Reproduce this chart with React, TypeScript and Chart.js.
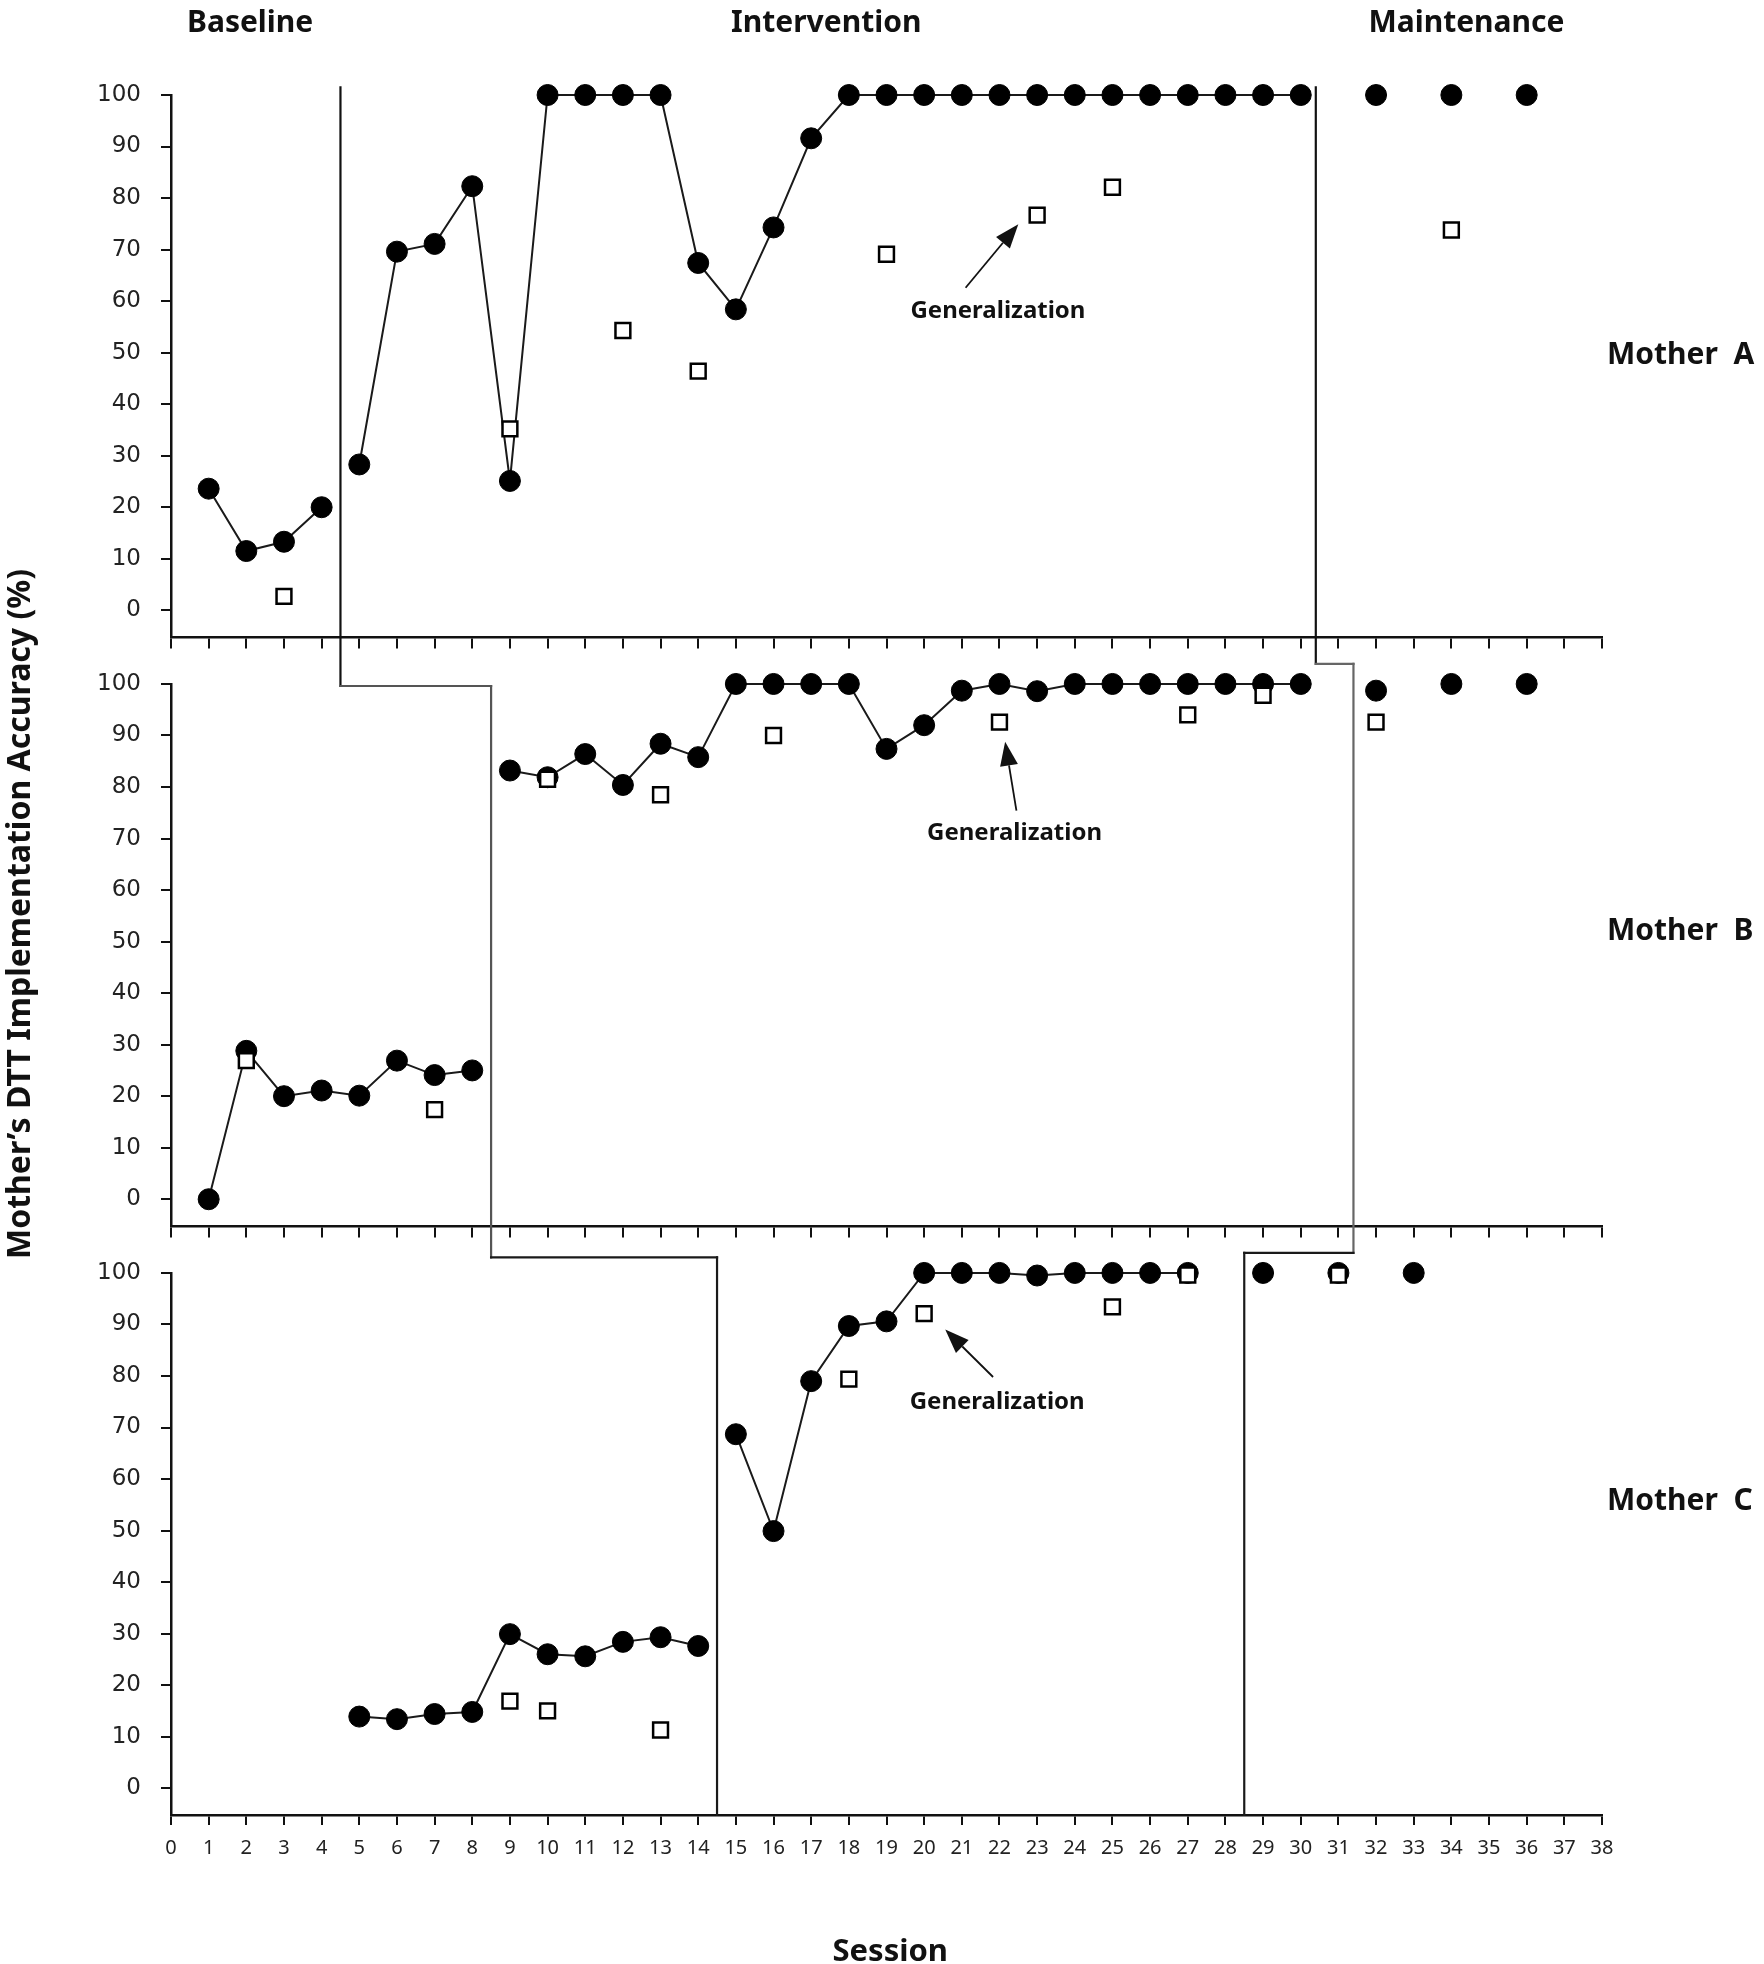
import React, { useEffect, useRef } from "react";
import { Chart, registerables } from "chart.js";

Chart.register(...registerables);

// ---------- axis ranges ----------
const sessionMin = 0;
const sessionMax = 38;
const panelMin = -5.2;
const panelMax = 100;
const panelGap = 9.1;

// ---------- Mother A ----------
const aBaseSessions = [1, 2, 3, 4];
const aBaseValues = [23.6, 11.5, 13.3, 20.0];
const aIntSessions = [5, 6, 7, 8, 9, 10, 11, 12, 13, 14, 15, 16, 17, 18, 19, 20, 21, 22, 23, 24, 25, 26, 27, 28, 29, 30];
const aIntValues = [28.3, 69.6, 71.1, 82.3, 25.1, 100, 100, 100, 100, 67.4, 58.4, 74.3, 91.6, 100, 100, 100, 100, 100, 100, 100, 100, 100, 100, 100, 100, 100];
const aMaintSessions = [32, 34, 36];
const aMaintValues = [100, 100, 100];
const aGenSessions = [3, 9, 12, 14, 19, 23, 25, 34];
const aGenValues = [2.7, 35.2, 54.3, 46.4, 69.1, 76.7, 82.1, 73.8];

// ---------- Mother B ----------
const bBaseSessions = [1, 2, 3, 4, 5, 6, 7, 8];
const bBaseValues = [0, 28.8, 20.0, 21.1, 20.1, 26.9, 24.1, 25.0];
const bIntSessions = [9, 10, 11, 12, 13, 14, 15, 16, 17, 18, 19, 20, 21, 22, 23, 24, 25, 26, 27, 28, 29, 30];
const bIntValues = [83.2, 81.9, 86.4, 80.4, 88.4, 85.8, 100, 100, 100, 100, 87.4, 92.0, 98.7, 100, 98.6, 100, 100, 100, 100, 100, 100, 100];
const bMaintSessions = [32, 34, 36];
const bMaintValues = [98.7, 100, 100];
const bGenSessions = [2, 7, 10, 13, 16, 22, 27, 29, 32];
const bGenValues = [26.9, 17.4, 81.5, 78.5, 90.0, 92.6, 94.0, 97.8, 92.6];

// ---------- Mother C ----------
const cBaseSessions = [5, 6, 7, 8, 9, 10, 11, 12, 13, 14];
const cBaseValues = [13.9, 13.4, 14.4, 14.8, 29.9, 26.0, 25.6, 28.4, 29.3, 27.6];
const cIntSessions = [15, 16, 17, 18, 19, 20, 21, 22, 23, 24, 25, 26, 27];
const cIntValues = [68.7, 49.9, 79.0, 89.7, 90.6, 100, 100, 100, 99.5, 100, 100, 100, 100];
const cMaintSessions = [29, 31, 33];
const cMaintValues = [100, 100, 100];
const cGenSessions = [9, 10, 13, 18, 20, 25, 27, 31];
const cGenValues = [16.9, 15.0, 11.3, 79.4, 92.1, 93.4, 99.6, 99.6];

// ---------- labels ----------
const phaseNames = ["Baseline", "Intervention", "Maintenance"];
const phaseNameSessions = [2.1, 17.4, 34.4];
const motherNames = ["Mother  A", "Mother  B", "Mother  C"];
const motherNameLevels = [49.4, 52.0, 55.7];
const panelAxes = ["yA", "yB", "yC"];
const yTitle = "Mother\u2019s DTT Implementation Accuracy (%)";
const xTitle = "Session";
const noteText = "Generalization";

// phase change lines: [session, panel axis, level]
const phaseLine1 = [
  [4.5, "yA", 101.5],
  [4.5, "yB", 99.6],
  [8.5, "yB", 99.6],
  [8.5, "yC", 103.0],
  [14.5, "yC", 103.0],
  [14.5, "yC", -5.2],
];
const phaseLine1Colors = ["#111", "#555", "#555", "#1a1a1a", "#1a1a1a"];
const phaseLine2 = [
  [30.4, "yA", 101.5],
  [30.4, "yB", 103.9],
  [31.4, "yB", 103.9],
  [31.4, "yC", 103.9],
  [28.5, "yC", 103.9],
  [28.5, "yC", -5.2],
];
const phaseLine2Colors = ["#111", "#666", "#666", "#1a1a1a", "#1a1a1a"];

// generalization notes: text centre, arrow tail, arrow tip (session, level)
const noteAxes = ["yA", "yB", "yC"];
const noteTextAt = [[21.96, 58.1], [22.4, 71.1], [21.94, 74.9]];
const noteTail = [[21.1, 62.6], [22.45, 75.4], [21.83, 79.8]];
const noteTip = [[22.5, 74.9], [22.15, 88.8], [20.56, 89.0]];

const pts = (s: number[], v: number[]) => s.map((x, i) => ({ x, y: v[i] }));

const circleSet = (label: string, s: number[], v: number[], yAxisID: string, showLine: boolean) => ({
  label,
  data: pts(s, v),
  xAxisID: "x",
  yAxisID,
  showLine,
  borderColor: "#1a1a1a",
  borderWidth: 2,
  tension: 0,
  fill: false,
  pointStyle: "circle",
  pointRadius: 10.5,
  pointHoverRadius: 10.5,
  pointBackgroundColor: "#000",
  pointBorderColor: "#000",
  pointBorderWidth: 1,
  clip: false,
  order: 2,
});

const genSet = (label: string, s: number[], v: number[], yAxisID: string) => ({
  label,
  data: pts(s, v),
  xAxisID: "x",
  yAxisID,
  showLine: false,
  pointStyle: "rect",
  pointRadius: 10.5,
  pointHoverRadius: 10.5,
  pointBackgroundColor: "#fff",
  pointBorderColor: "#000",
  pointBorderWidth: 2.5,
  clip: false,
  order: 1,
});

const axisBorder = { display: true, color: "#111", width: 2.5 };
const axisGrid = { drawOnChartArea: false, drawTicks: true, tickLength: 10, color: "#111", lineWidth: 2 };

const panelAxis = (weight: number) => ({
  type: "linear",
  axis: "y",
  position: "left",
  stack: "panels",
  stackWeight: panelMax - panelMin,
  weight,
  min: panelMin,
  max: panelMax,
  border: axisBorder,
  grid: axisGrid,
  ticks: {
    stepSize: 10,
    includeBounds: false,
    autoSkip: false,
    color: "#222",
    padding: 20,
    font: { family: "DejaVu Sans", size: 23 },
  },
  afterFit: (s: any) => {
    s.width = 171;
  },
});

const spacerAxis = (weight: number) => ({
  type: "linear",
  axis: "y",
  display: false,
  position: "left",
  stack: "panels",
  stackWeight: panelGap,
  weight,
  min: 0,
  max: 1,
});

const innerXAxis = (yId: string) => ({
  type: "linear",
  axis: "x",
  position: { [yId]: panelMin },
  min: sessionMin,
  max: sessionMax,
  border: axisBorder,
  grid: axisGrid,
  ticks: { display: false, stepSize: 1, autoSkip: false },
});

const drawPath = (chart: any, path: any[], colors: string[]) => {
  const { ctx, scales } = chart;
  const p = path.map(([s, ax, v]) => [scales.x.getPixelForValue(s), scales[ax].getPixelForValue(v)]);
  ctx.save();
  ctx.lineWidth = 2.2;
  ctx.lineCap = "square";
  for (let i = 0; i < p.length - 1; i++) {
    ctx.strokeStyle = colors[i];
    ctx.beginPath();
    ctx.moveTo(p[i][0], p[i][1]);
    ctx.lineTo(p[i + 1][0], p[i + 1][1]);
    ctx.stroke();
  }
  ctx.restore();
};

const overlay = {
  id: "overlay",
  beforeDatasetsDraw(chart: any) {
    drawPath(chart, phaseLine1, phaseLine1Colors);
    drawPath(chart, phaseLine2, phaseLine2Colors);
  },
  afterDraw(chart: any) {
    const { ctx, scales, chartArea } = chart;
    const x = scales.x;
    ctx.save();
    ctx.fillStyle = "#111";
    ctx.strokeStyle = "#111";

    // phase names
    ctx.font = 'bold 30px "Noto Sans"';
    ctx.textAlign = "center";
    ctx.textBaseline = "alphabetic";
    phaseNames.forEach((t, i) => ctx.fillText(t, x.getPixelForValue(phaseNameSessions[i]), 32));

    // mother names
    ctx.font = 'bold 30px "Noto Sans"';
    ctx.textAlign = "left";
    ctx.textBaseline = "middle";
    motherNames.forEach((t, i) =>
      ctx.fillText(t, chartArea.right + 5, scales[panelAxes[i]].getPixelForValue(motherNameLevels[i]))
    );

    // generalization notes with arrows
    ctx.font = 'bold 24px "Noto Sans"';
    ctx.textAlign = "center";
    ctx.textBaseline = "middle";
    noteAxes.forEach((ax, i) => {
      const ys = scales[ax];
      ctx.fillText(noteText, x.getPixelForValue(noteTextAt[i][0]), ys.getPixelForValue(noteTextAt[i][1]));
      const tx = x.getPixelForValue(noteTail[i][0]);
      const ty = ys.getPixelForValue(noteTail[i][1]);
      const hx = x.getPixelForValue(noteTip[i][0]);
      const hy = ys.getPixelForValue(noteTip[i][1]);
      const ang = Math.atan2(hy - ty, hx - tx);
      const len = 24;
      const half = 9;
      const bx = hx - len * Math.cos(ang);
      const by = hy - len * Math.sin(ang);
      ctx.lineWidth = 1.8;
      ctx.beginPath();
      ctx.moveTo(tx, ty);
      ctx.lineTo(bx, by);
      ctx.stroke();
      ctx.beginPath();
      ctx.moveTo(hx, hy);
      ctx.lineTo(bx + half * Math.sin(ang), by - half * Math.cos(ang));
      ctx.lineTo(bx - half * Math.sin(ang), by + half * Math.cos(ang));
      ctx.closePath();
      ctx.fill();
    });

    // axis titles
    ctx.font = 'bold 31px "Noto Sans"';
    ctx.textAlign = "center";
    ctx.textBaseline = "alphabetic";
    ctx.fillText(xTitle, x.getPixelForValue(19.1), 1961);

    ctx.font = 'bold 32px "Noto Sans"';
    ctx.translate(30, 914);
    ctx.rotate(-Math.PI / 2);
    ctx.fillText(yTitle, 0, 0);
    ctx.restore();
  },
};

export default function App() {
  const ref = useRef<HTMLCanvasElement>(null);
  useEffect(() => {
    const datasets: any[] = [
      genSet("A generalization", aGenSessions, aGenValues, "yA"),
      genSet("B generalization", bGenSessions, bGenValues, "yB"),
      genSet("C generalization", cGenSessions, cGenValues, "yC"),
      circleSet("A baseline", aBaseSessions, aBaseValues, "yA", true),
      circleSet("A intervention", aIntSessions, aIntValues, "yA", true),
      circleSet("A maintenance", aMaintSessions, aMaintValues, "yA", false),
      circleSet("B baseline", bBaseSessions, bBaseValues, "yB", true),
      circleSet("B intervention", bIntSessions, bIntValues, "yB", true),
      circleSet("B maintenance", bMaintSessions, bMaintValues, "yB", false),
      circleSet("C baseline", cBaseSessions, cBaseValues, "yC", true),
      circleSet("C intervention", cIntSessions, cIntValues, "yC", true),
      circleSet("C maintenance", cMaintSessions, cMaintValues, "yC", false),
    ];
    const chart = new Chart(ref.current as HTMLCanvasElement, {
      type: "line",
      data: { datasets },
      options: {
        responsive: false,
        animation: false,
        events: [],
        layout: { autoPadding: false, padding: { top: 95, bottom: 89, left: 0, right: 162 } },
        plugins: { legend: { display: false }, tooltip: { enabled: false }, title: { display: false } },
        scales: {
          x: {
            type: "linear",
            position: "bottom",
            min: sessionMin,
            max: sessionMax,
            border: axisBorder,
            grid: axisGrid,
            ticks: {
              stepSize: 1,
              autoSkip: false,
              maxRotation: 0,
              color: "#222",
              padding: 11,
              font: { family: "Noto Sans", size: 20 },
            },
            afterFit: (s: any) => {
              s.height = 60;
            },
          },
          xA: innerXAxis("yA"),
          xB: innerXAxis("yB"),
          yA: panelAxis(5),
          gapAB: spacerAxis(4),
          yB: panelAxis(3),
          gapBC: spacerAxis(2),
          yC: panelAxis(1),
        } as any,
      },
      plugins: [overlay],
    } as any);
    return () => chart.destroy();
  }, []);
  return (
    <div style={{ position: "fixed", left: 0, top: 0, width: 1764, height: 1964, background: "#fff" }}>
      <canvas ref={ref} width={1764} height={1964} style={{ display: "block" }} />
    </div>
  );
}
